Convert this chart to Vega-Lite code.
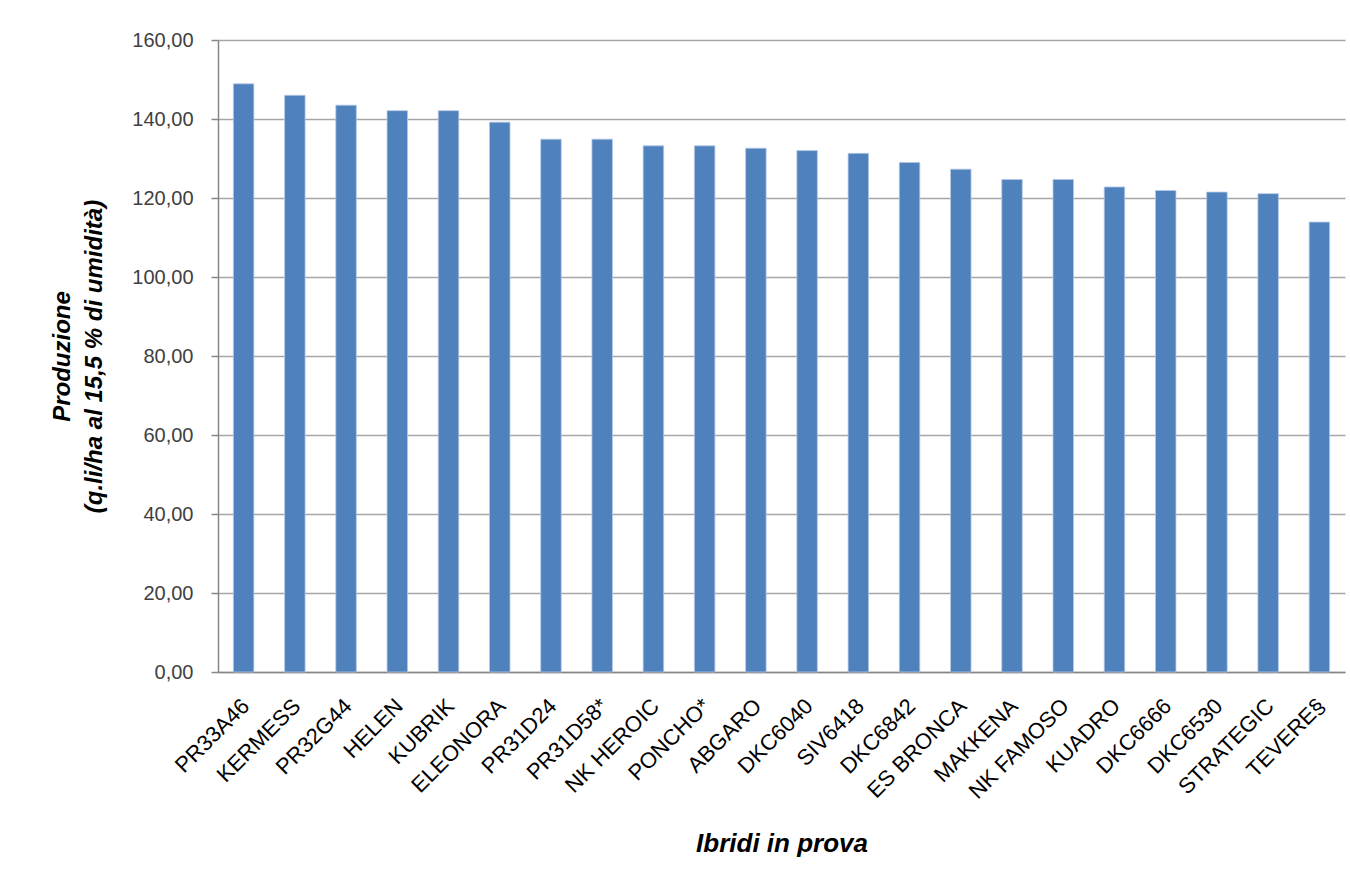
{
  "$schema": "https://vega.github.io/schema/vega-lite/v6.json",
  "width": 1127,
  "height": 632,
  "autosize": {"type": "none"},
  "padding": {"left": 218, "top": 40, "right": 5, "bottom": 209},
  "background": "white",
  "data": {
    "values": [
      {"ibrido": "PR33A46", "produzione": 148.9},
      {"ibrido": "KERMESS", "produzione": 146.0},
      {"ibrido": "PR32G44", "produzione": 143.5},
      {"ibrido": "HELEN", "produzione": 142.1},
      {"ibrido": "KUBRIK", "produzione": 142.1},
      {"ibrido": "ELEONORA", "produzione": 139.2},
      {"ibrido": "PR31D24", "produzione": 134.9},
      {"ibrido": "PR31D58*", "produzione": 134.9},
      {"ibrido": "NK HEROIC", "produzione": 133.2},
      {"ibrido": "PONCHO*", "produzione": 133.2},
      {"ibrido": "ABGARO", "produzione": 132.6},
      {"ibrido": "DKC6040", "produzione": 132.0},
      {"ibrido": "SIV6418", "produzione": 131.3},
      {"ibrido": "DKC6842", "produzione": 129.0},
      {"ibrido": "ES BRONCA", "produzione": 127.3},
      {"ibrido": "MAKKENA", "produzione": 124.7},
      {"ibrido": "NK FAMOSO", "produzione": 124.7},
      {"ibrido": "KUADRO", "produzione": 122.8},
      {"ibrido": "DKC6666", "produzione": 121.9},
      {"ibrido": "DKC6530", "produzione": 121.5},
      {"ibrido": "STRATEGIC", "produzione": 121.1},
      {"ibrido": "TEVERE§", "produzione": 113.9}
    ]
  },
  "mark": {"type": "bar", "color": "#4F81BD", "stroke": "#b4c8e3", "strokeWidth": 0.8},
  "encoding": {
    "x": {
      "field": "ibrido",
      "type": "nominal",
      "sort": null,
      "scale": {"paddingInner": 0.6, "paddingOuter": 0.3},
      "axis": {
        "title": "Ibridi in prova",
        "titleFont": "Liberation Sans",
        "titleFontSize": 26,
        "titleFontWeight": "bold",
        "titleFontStyle": "italic",
        "titleColor": "#000000",
        "titleY": 171,
        "titleBaseline": "middle",
        "labelAngle": -45,
        "labelAlign": "right",
        "labelBaseline": "top",
        "labelFont": "Liberation Sans",
        "labelFontSize": 22,
        "labelColor": "#000000",
        "labelPadding": 23,
        "labelOffset": -5,
        "ticks": false,
        "domainColor": "#868686",
        "domainWidth": 1.5,
        "grid": false
      }
    },
    "y": {
      "field": "produzione",
      "type": "quantitative",
      "scale": {"domain": [0, 160], "nice": false},
      "axis": {
        "values": [0, 20, 40, 60, 80, 100, 120, 140, 160],
        "labelExpr": "replace(format(datum.value, '.2f'), '.', ',')",
        "labelFont": "Liberation Sans",
        "labelFontSize": 20,
        "labelColor": "#404040",
        "labelPadding": 18,
        "tickSize": 7,
        "tickColor": "#868686",
        "tickWidth": 1.5,
        "domainColor": "#868686",
        "domainWidth": 1.5,
        "gridColor": "#a6a6a6",
        "gridWidth": 1.5,
        "title": ["Produzione", "(q.li/ha al 15,5 % di umidità)"],
        "titleFont": "Liberation Sans",
        "titleFontSize": 24,
        "titleFontWeight": "bold",
        "titleFontStyle": "italic",
        "titleColor": "#000000",
        "titleLineHeight": 32,
        "titleX": -156,
        "titleY": 316,
        "titleAngle": -90,
        "titleBaseline": "middle",
        "titleAlign": "center"
      }
    }
  },
  "config": {
    "view": {"stroke": null}
  }
}
